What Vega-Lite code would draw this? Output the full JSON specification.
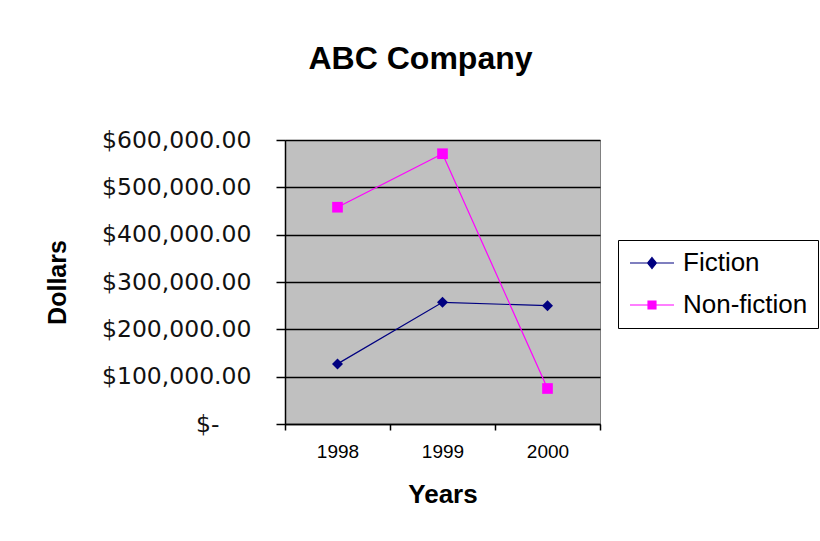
{
  "$schema": "https://vega.github.io/schema/vega-lite/v6.json",
  "autosize": {"type": "none"},
  "padding": {"left": 285, "top": 140, "right": 220, "bottom": 117},
  "width": 315,
  "height": 284,
  "background": "white",
  "title": {
    "text": "ABC Company",
    "font": "Liberation Sans",
    "fontSize": 32,
    "fontWeight": "bold",
    "color": "black",
    "anchor": "middle",
    "frame": "group",
    "dx": -22,
    "offset": 52
  },
  "data": {
    "values": [
      {"series": "Fiction", "year": "1998", "value": 127000},
      {"series": "Fiction", "year": "1999", "value": 257000},
      {"series": "Fiction", "year": "2000", "value": 250000},
      {"series": "Non-fiction", "year": "1998", "value": 458000},
      {"series": "Non-fiction", "year": "1999", "value": 571000},
      {"series": "Non-fiction", "year": "2000", "value": 75000}
    ]
  },
  "encoding": {
    "x": {
      "field": "year",
      "type": "ordinal",
      "scale": {"type": "band", "paddingInner": 0, "paddingOuter": 0},
      "axis": {
        "title": "Years",
        "titleFont": "Liberation Sans",
        "titleFontSize": 26,
        "titleFontWeight": "bold",
        "titleColor": "black",
        "titlePadding": 20,
        "labelFont": "Liberation Sans",
        "labelFontSize": 19,
        "labelColor": "black",
        "labelAngle": 0,
        "labelPadding": 12,
        "tickBand": "extent",
        "tickSize": 6,
        "tickColor": "black",
        "tickWidth": 1.5,
        "domainColor": "black",
        "domainWidth": 1.5,
        "grid": false
      }
    },
    "y": {
      "field": "value",
      "type": "quantitative",
      "scale": {"domain": [0, 600000], "nice": false, "zero": true},
      "axis": {
        "title": "Dollars",
        "titleFont": "Liberation Sans",
        "titleFontSize": 25,
        "titleFontWeight": "bold",
        "titleColor": "black",
        "titlePadding": 31,
        "values": [0, 100000, 200000, 300000, 400000, 500000, 600000],
        "labelExpr": "datum.value === 0 ? '$-' : '$' + format(datum.value, ',.2f')",
        "labelFont": "DejaVu Sans",
        "labelFontSize": 23.5,
        "labelColor": "#111111",
        "labelPadding": {"condition": {"test": "datum.value === 0", "value": 57}, "value": 25},
        "tickSize": 9,
        "tickColor": "black",
        "tickWidth": 1.5,
        "domainColor": "black",
        "domainWidth": 1.5,
        "grid": true,
        "gridColor": "black",
        "gridWidth": 1.5
      }
    },
    "color": {
      "field": "series",
      "type": "nominal",
      "scale": {"domain": ["Fiction", "Non-fiction"], "range": ["#000080", "#FF00FF"]}
    }
  },
  "layer": [
    {
      "mark": {"type": "line", "strokeWidth": 1.2}
    },
    {
      "transform": [{"filter": "datum.series === 'Fiction'"}],
      "mark": {"type": "point", "shape": "diamond", "size": 121, "filled": true, "opacity": 1}
    },
    {
      "transform": [{"filter": "datum.series === 'Non-fiction'"}],
      "mark": {"type": "point", "shape": "square", "size": 114, "filled": true, "opacity": 1}
    },
    {
      "mark": {"type": "point", "opacity": 0, "filled": false},
      "encoding": {
        "shape": {
          "field": "series",
          "type": "nominal",
          "scale": {
            "domain": ["Fiction", "Non-fiction"],
            "range": ["M-1,0H3M1,-0.5L1.4,0L1,0.5L0.6,0Z", "M-1,0H3M0.64,-0.36H1.36V0.36H0.64Z"]
          },
          "legend": {
            "title": null,
            "orient": "none",
            "legendX": 333,
            "legendY": 100,
            "padding": 10,
            "strokeColor": "black",
            "fillColor": "white",
            "symbolSize": 484,
            "symbolOpacity": 1,
            "symbolStrokeWidth": 1.2,
            "labelFont": "Liberation Sans",
            "labelFontSize": 26,
            "labelColor": "black",
            "labelOffset": 29,
            "rowPadding": 16,
            "encode": {
              "symbols": {
                "update": {
                  "fill": {"scale": "color", "field": "value"},
                  "stroke": {"scale": "color", "field": "value"},
                  "opacity": {"value": 1}
                }
              }
            }
          }
        }
      }
    }
  ],
  "config": {
    "view": {"fill": "#C0C0C0", "stroke": "#808080", "strokeWidth": 1}
  }
}
